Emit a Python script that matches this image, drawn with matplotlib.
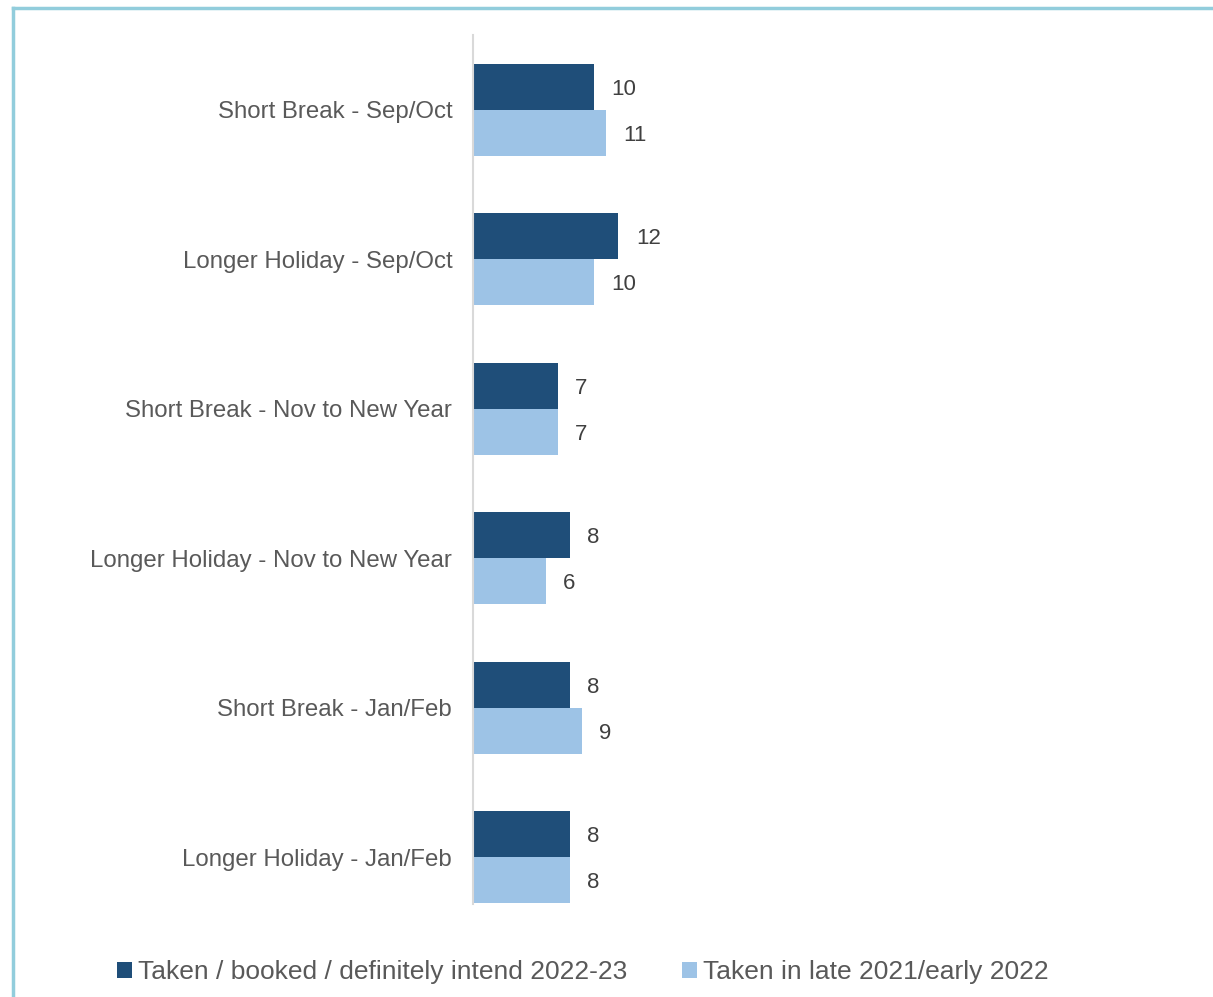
import matplotlib
matplotlib.use('Agg')
import matplotlib.pyplot as plt
import numpy as np

categories = ['Short Break - Sep/Oct', 'Longer Holiday - Sep/Oct',
              'Short Break - Nov to New Year', 'Longer Holiday - Nov to New Year',
              'Short Break - Jan/Feb', 'Longer Holiday - Jan/Feb']
booked = [10, 12, 7, 8, 8, 8]
taken = [11, 10, 7, 6, 9, 8]
series_names = ['Taken / booked / definitely intend 2022-23', 'Taken in late 2021/early 2022']

dark = '#1F4E79'
light = '#9DC3E6'
txt = '#595959'

plt.rcParams['font.family'] = ['Liberation Sans', 'DejaVu Sans']

W, H = 1213, 997
fig = plt.figure(figsize=(W / 100, H / 100), dpi=100)
ax = fig.add_axes([473 / W, 1 - 932 / H, (1200 - 473) / W, (932 - 35) / H])

y = np.arange(len(categories))
h = 0.308
b1 = ax.barh(y - h / 2, booked, height=h, color=dark, label=series_names[0])
b2 = ax.barh(y + h / 2, taken, height=h, color=light, label=series_names[1])

for bars, vals in [(b1, booked), (b2, taken)]:
    for rect, v in zip(bars, vals):
        ax.annotate(str(v), (v, rect.get_y() + rect.get_height() / 2),
                    xytext=(12.5, 0), textcoords='offset points',
                    va='center_baseline', ha='left', fontsize=16, color='#404040')

ax.set_xlim(0, 60)
ax.set_ylim(len(categories) - 0.5, -0.5)
ax.set_yticks(y)
ax.set_yticklabels(categories, fontsize=17.3, color=txt)
ax.tick_params(axis='y', length=0, pad=15)
ax.set_xticks([])
for s in ['top', 'right', 'bottom']:
    ax.spines[s].set_visible(False)
ax.spines['left'].set_color('#D9D9D9')
ax.spines['left'].set_linewidth(1.5)
ax.spines['left'].set_bounds(-0.5, 5.31)

fig.legend(handles=[b1, b2], loc='center', bbox_to_anchor=(0.4805, 1 - 972 / H),
           ncol=2, frameon=False, fontsize=19, labelcolor=txt,
           handlelength=0.55, handleheight=0.55, handletextpad=0.23, columnspacing=2.1)

# light blue frame along the top and left edges
fig.add_artist(plt.Line2D([13 / W, 1], [1 - 8 / H, 1 - 8 / H], color='#92CDDC', lw=2.5,
                          transform=fig.transFigure))
fig.add_artist(plt.Line2D([13 / W, 13 / W], [0, 1 - 8 / H], color='#92CDDC', lw=2.5,
                          transform=fig.transFigure))

plt.savefig('out.png', dpi=100)
